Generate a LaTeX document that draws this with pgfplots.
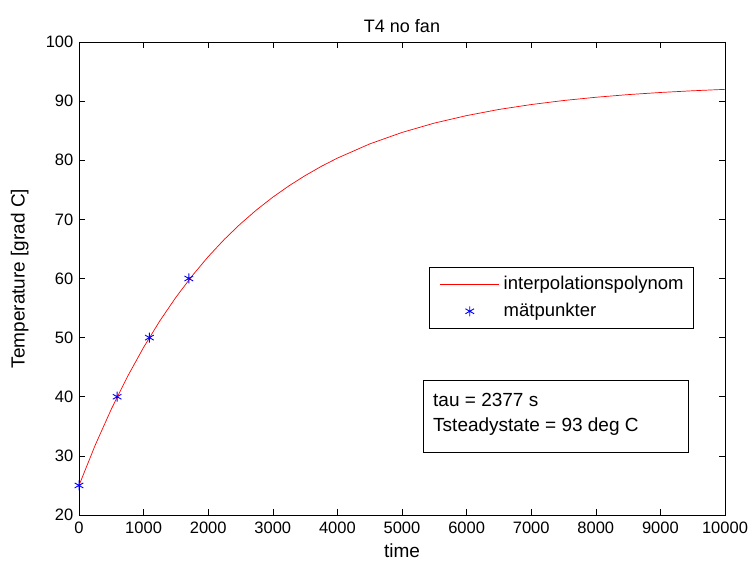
\documentclass[border=0pt]{standalone}
\usepackage{pgfplots}
\pgfplotsset{compat=1.18}
\usepackage{fontspec}
\setmainfont{Liberation Sans}
\pgfplotsset{
  lineleg/.style={legend image code/.code={\path (-3pt,0pt); \draw[##1] (0pt,0pt) -- (59pt,0pt); \path (61pt,0pt);}},
  markleg/.style={legend image code/.code={\path (-3pt,0pt); \draw[mark repeat=2,mark phase=2,##1] plot coordinates {(0pt,0pt)(29.5pt,0pt)(59pt,0pt)}; \path (61pt,0pt);}},
}
\begin{document}
\fontsize{16.5}{19}\selectfont
\begin{tikzpicture}
\begin{axis}[
  scale only axis,
  width=646pt, height=473pt,
  xmin=0, xmax=10000, ymin=20, ymax=100,
  xtick={0,1000,...,10000}, ytick={20,30,...,100},
  scaled x ticks=false,
  /pgf/number format/1000 sep={},
  /pgf/number format/assume math mode=true,
  tick align=inside, major tick length=6pt,
  tick style={black, line width=0.6pt},
  axis line style={black, line width=0.6pt},
  xticklabel style={yshift=-1pt},
  title={T4 no fan}, title style={font=\fontsize{18}{20}\selectfont, yshift=-2pt},
  xlabel={time}, ylabel={Temperature [grad C]},
  xlabel style={font=\fontsize{19}{21}\selectfont, yshift=1pt},
  ylabel style={font=\fontsize{19}{21}\selectfont, yshift=6pt},
  legend style={at={(0.952,0.524)}, anchor=north east, draw=black, line width=0.6pt,
    row sep=7pt, inner xsep=8pt, inner ysep=7pt, font=\fontsize{18.5}{21}\selectfont},
  legend cell align=left,
]
\addplot[red, line width=0.7pt, mark=none, lineleg] coordinates {
(0,25) (250,31.79) (500,37.90) (750,43.40) (1000,48.35) (1250,52.81) (1500,56.82)
(1750,60.43) (2000,63.69) (2250,66.62) (2500,69.25) (2750,71.62) (3000,73.75)
(3250,75.67) (3500,77.40) (3750,78.96) (4000,80.36) (4500,82.76) (5000,84.70)
(5500,86.28) (6000,87.55) (6500,88.59) (7000,89.42) (7500,90.10) (8000,90.65)
(8500,91.10) (9000,91.46) (9500,91.75) (10000,91.99)};
\addlegendentry{interpolationspolynom}
\addplot[only marks, blue, mark=asterisk, mark size=5pt, line width=0.9pt, markleg] coordinates {
(0,25) (590,40) (1090,50) (1700,60)};
\addlegendentry{mätpunkter}
\node[draw=black, line width=0.6pt, anchor=north west, minimum width=265pt, minimum height=72pt,
  inner sep=0pt] (tb) at (rel axis cs:0.5325,0.2854) {};
\node[anchor=north west, align=left, inner sep=0pt, font=\fontsize{19}{25}\selectfont]
  at ([xshift=10pt,yshift=-13pt]tb.north west) {tau = 2377 s\\Tsteadystate = 93 deg C};
\end{axis}
\pgfresetboundingbox
\path[use as bounding box] ([shift={(-79pt,-48pt)}]current axis.south west) rectangle ([shift={(27pt,42pt)}]current axis.north east);
\end{tikzpicture}
\end{document}
